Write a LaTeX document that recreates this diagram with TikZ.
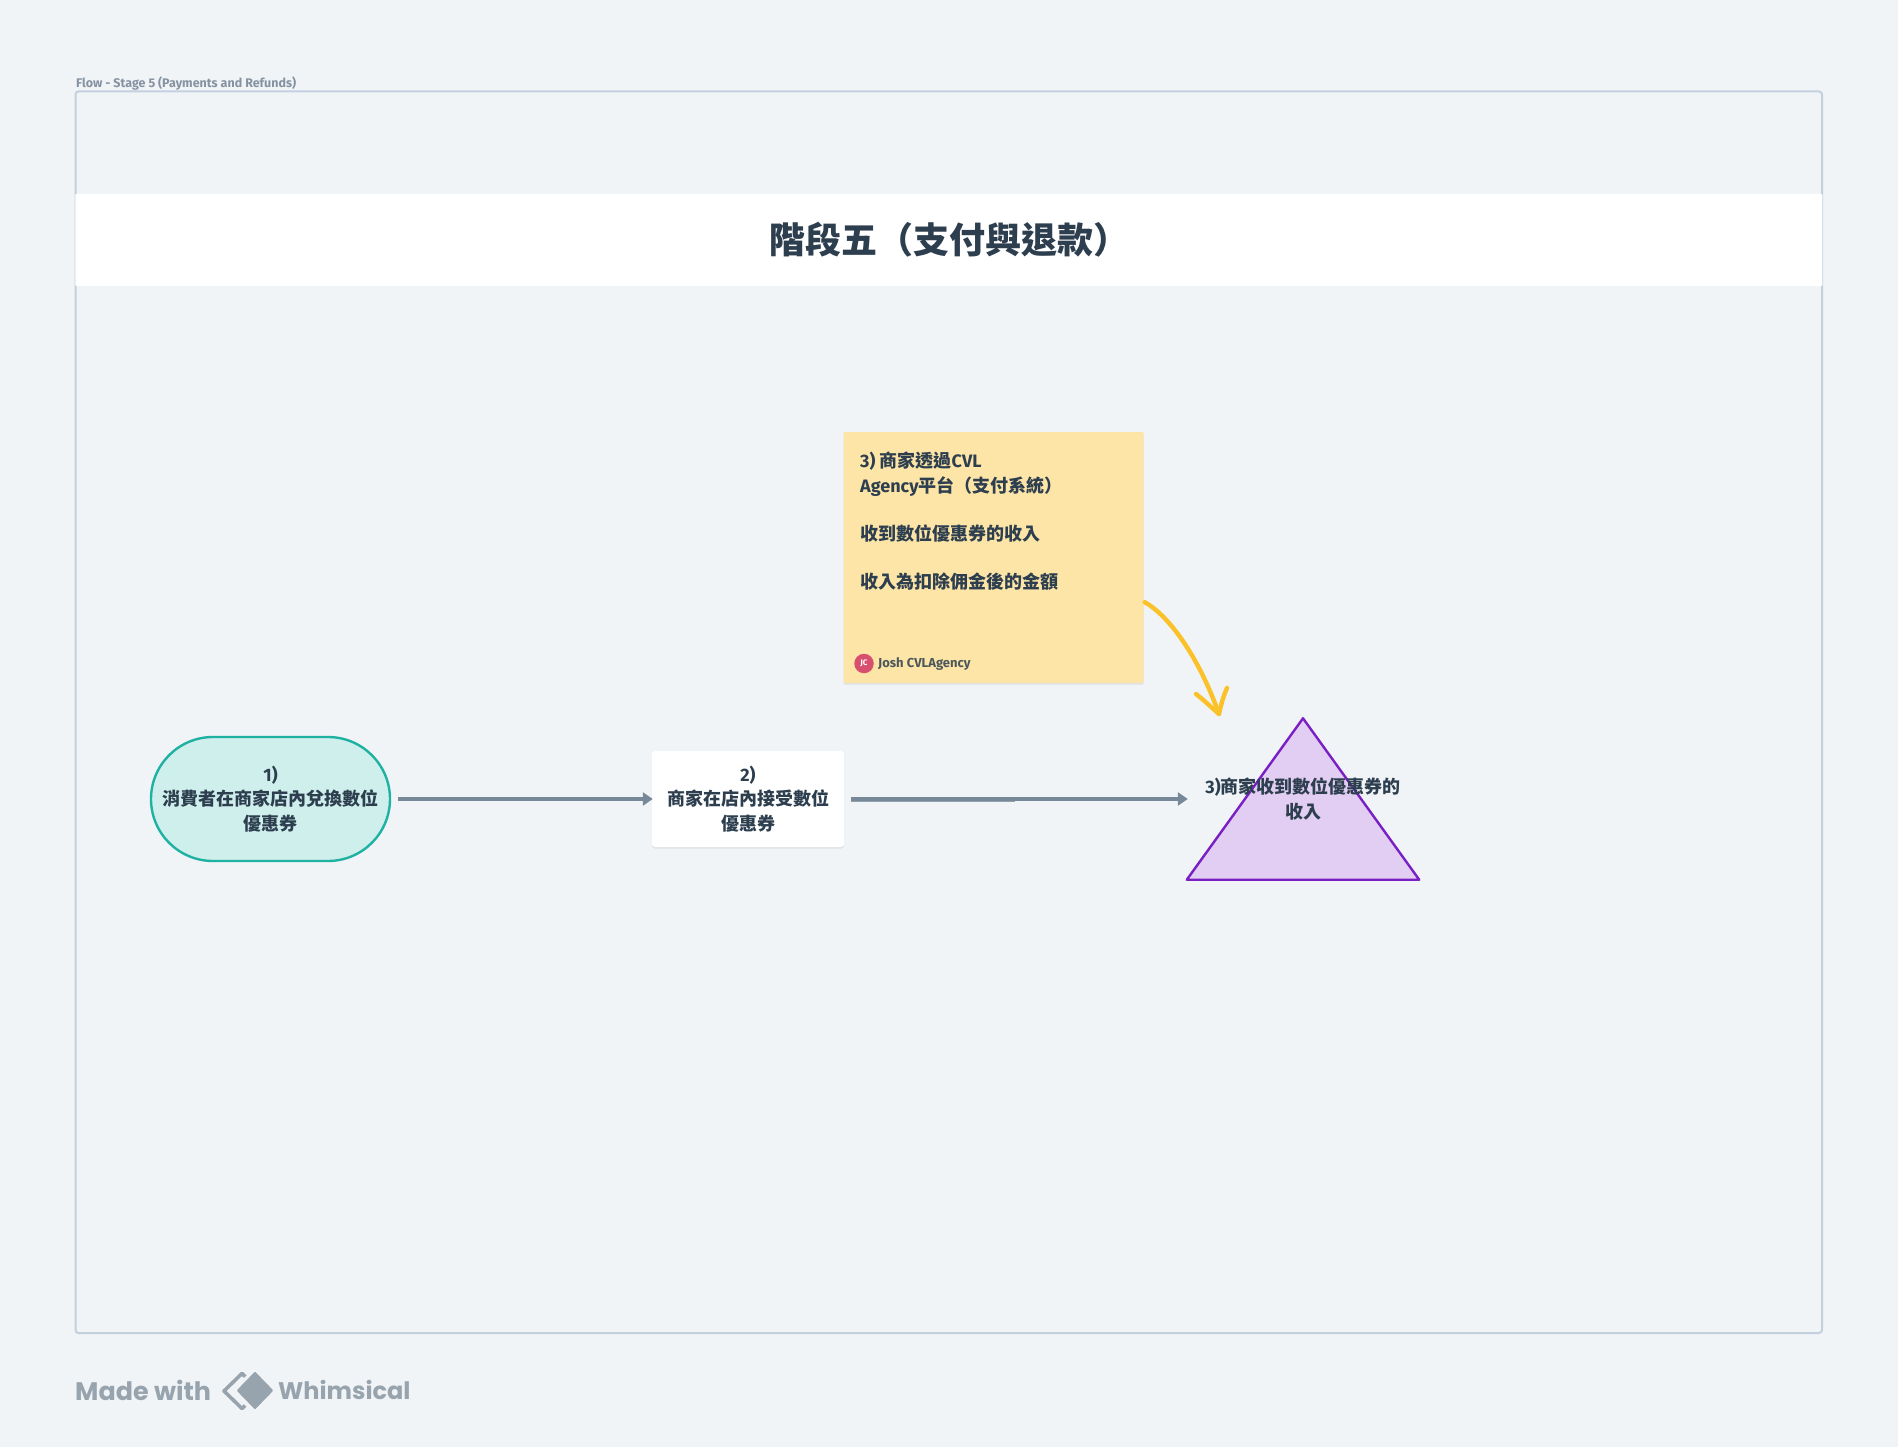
\documentclass[tikz,border=0pt]{standalone}
\usepackage{fontspec}
\setmainfont{Noto Sans CJK TC}
\newfontfamily\lat{Fira Sans}
\newfontfamily\pop{Poppins}
\usetikzlibrary{arrows.meta,shadows,calc}
\definecolor{bg}{HTML}{F0F4F7}
\definecolor{framec}{HTML}{C4D0DE}
\definecolor{ink}{HTML}{2D3E4F}
\definecolor{flowc}{HTML}{778899}
\definecolor{flowl}{HTML}{93A1AF}
\definecolor{logoc}{HTML}{97A3AD}
\definecolor{notef}{HTML}{FDE5A7}
\definecolor{yarrow}{HTML}{FAC228}
\definecolor{pillf}{HTML}{CFEFEC}
\definecolor{pilld}{HTML}{1FB2A3}
\definecolor{trif}{HTML}{E2CEF3}
\definecolor{trid}{HTML}{7A1FC4}
\definecolor{avatar}{HTML}{D9506F}
\tikzset{
  txt/.style={font=\fontsize{18}{24.2}\selectfont\bfseries,text=ink,align=center,inner sep=0pt},
  softshadow/.style={drop shadow={shadow xshift=0pt,shadow yshift=-1.5pt,opacity=.12,fill=black!60}},
  flow/.style={draw=flowc,line width=4.2pt,-{Triangle[length=10pt,width=13pt]}},
  pillbox/.style={rounded corners=62pt,draw=pilld,fill=pillf,line width=2.4pt,minimum width=239pt,minimum height=124pt,inner sep=0pt},
  cardbox/.style={fill=white,rounded corners=3pt,minimum width=192pt,minimum height=96pt,inner sep=0pt,softshadow},
  notebox/.style={fill=notef,rounded corners=1pt,minimum width=300pt,minimum height=251pt,inner sep=0pt,softshadow},
  tribox/.style={minimum width=232pt,minimum height=161pt,inner sep=0pt},
  trishape/.style={fill=trif,draw=trid,line width=2.4pt,line join=round},
  yellowline/.style={draw=yarrow,line width=4.4pt,line cap=round,line join=round},
}
\begin{document}
\begin{tikzpicture}[x=1pt,y=-1pt]
\useasboundingbox (0,0) rectangle (1898,1447);
\fill[bg] (0,0) rectangle (1898,1447);
% frame
\node[anchor=west,inner sep=0pt,text=flowl!85!ink,font=\fontsize{12.5}{15}\selectfont\lat\bfseries] (flabel) at (76,84) {Flow - Stage 5 (Payments and Refunds)};
\draw[framec,line width=2pt,rounded corners=3pt] (75.5,91.5) rectangle (1822,1333);
% title band
\node[fill=white,minimum width=1747pt,minimum height=92pt,inner sep=0pt,rounded corners=1pt] (band) at (948.75,240) {};
\node[inner sep=0pt,text=ink,font=\fontsize{36}{40}\selectfont\bfseries] (title) at (949,240) {階段五（支付與退款）};
% pill
\node[pillbox,txt] (pill) at (270.5,799) {{\lat 1)}\\消費者在商家店內兌換數位\\優惠券};
% card
\node[cardbox,txt] (card) at (748,799) {{\lat 2)}\\商家在店內接受數位\\優惠券};
% triangle
\node[tribox] (tri) at (1303,799) {};
\draw[trishape] (tri.north) -- (tri.south east) -- (tri.south west) -- cycle;
\node[txt] (tritext) at (1303,799) {{\lat 3)}商家收到數位優惠券的\\收入};
% sticky note
\node[notebox] (note) at (993.5,557.5) {};
\node[txt,anchor=north west,align=left] (notetext) at (860,452) {{\lat 3) }商家透過{\lat CVL}\\{\lat Agency}平台（支付系統）\\\mbox{}\\收到數位優惠券的收入\\\mbox{}\\收入為扣除佣金後的金額};
\node[circle,fill=avatar,minimum size=19.5pt,inner sep=0pt,text=white,font=\fontsize{8}{8}\selectfont\lat\bfseries] (av) at (864,663.5) {JC};
\node[anchor=west,inner sep=0pt,text=ink!85!notef,font=\fontsize{13}{15}\selectfont\lat\bfseries] (author) at (878,664) {Josh CVLAgency};
% connectors
\draw[flow,shorten <=7pt,shorten >=-1pt] (pill.east) -- (card.west);
\draw[flowl,line width=3.6pt] ($(card.east)+(7,0.8)$) -- ($(card.east)+(171,0.8)$);
\draw[flow,shorten <=7pt,shorten >=-1pt] (card.east) -- (tri.west);
% hand-drawn arrow
\coordinate (ytip) at (1219,714);
\draw[yellowline] ($(note.south east)+(1,-81)$) .. controls (1168,615) and (1198,655) .. (ytip);
\draw[yellowline] (1196,694) .. controls (1205,701) and (1212,708) .. (ytip) .. controls (1221,705) and (1223,697) .. (1227,688);
% footer
\node[anchor=west,inner sep=0pt,text=logoc,font=\fontsize{25.4}{30}\selectfont\pop\bfseries] (made) at (75,1390) {Made with};
\draw[logoc,line width=3.6pt,line join=round] (242,1373.5) -- (224,1391) -- (242,1408.5) -- (260,1391) -- cycle;
\fill[bg] (255,1367) -- (279,1391) -- (255,1415) -- (231,1391) -- cycle;
\fill[logoc,draw=logoc,line width=2pt,line join=round] (255,1373) -- (272,1390.5) -- (255,1408) -- (238,1390.5) -- cycle;
\node[anchor=west,inner sep=0pt,text=logoc,font=\fontsize{24}{30}\selectfont\pop\bfseries] (whim) at (278,1390) {Whimsical};
\end{tikzpicture}
\end{document}
